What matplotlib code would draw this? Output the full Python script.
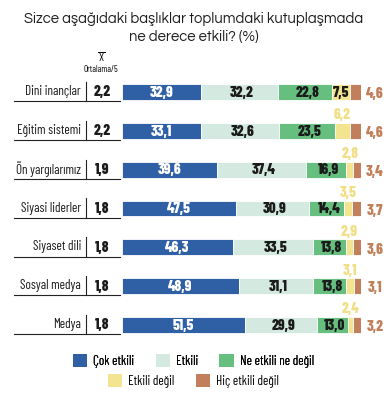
import matplotlib
matplotlib.use("Agg")
import matplotlib.pyplot as plt
from matplotlib.patches import Patch

# Data
topics = ["Dini inançlar", "Eğitim sistemi", "Ön yargılarımız", "Siyasi liderler",
          "Siyaset dili", "Sosyal medya", "Medya"]
means = ["2,2", "2,2", "1,9", "1,8", "1,8", "1,8", "1,8"]
cok_etkili = [32.9, 33.1, 39.6, 47.5, 46.3, 48.9, 51.5]
etkili = [32.2, 32.6, 37.4, 30.9, 33.5, 31.1, 29.9]
ne_etkili = [22.8, 23.5, 16.9, 14.4, 13.8, 13.8, 13.0]
etkili_degil = [7.5, 6.2, 2.8, 3.5, 2.9, 3.1, 2.4]
hic_etkili = [4.6, 4.6, 3.4, 3.7, 3.6, 3.1, 3.2]
legend_labels = ["Çok etkili", "Etkili", "Ne etkili ne değil", "Etkili değil", "Hiç etkili değil"]

colors = ["#2f5fa5", "#d4e9e0", "#67bf7f", "#f3e48f", "#c1805b"]
text_colors = ["white", "#1a1a1a", "#1a1a1a", "#f0df86", "#c1805b"]

COND = ["Barlow Condensed", "Roboto Condensed", "DejaVu Sans"]
TITLE = ["Questrial", "Lato", "DejaVu Sans"]


def fmt(v):
    return f"{v:.1f}".replace(".", ",")


fig = plt.figure(figsize=(3.87, 3.93), dpi=100)
W, H = 387, 393
# bar area in pixels: x 122..361, rows centred 92..325
ax = fig.add_axes([122 / W, 1 - 344.4 / H, 239 / W, (344.4 - 72.6) / H])
ax.set_xlim(0, 100)
ax.set_ylim(6.5, -0.5)
ax.axis("off")

series = [cok_etkili, etkili, ne_etkili, etkili_degil, hic_etkili]
ypos = list(range(len(topics)))
left = [0.0] * len(topics)
bar_h = 0.41
px = 100 / 239  # data units per pixel
vfs = 10.8
vw = 800

for si, vals in enumerate(series):
    ax.barh(ypos, vals, left=left, height=bar_h, color=colors[si],
            edgecolor="white", linewidth=0.6)
    for i, v in enumerate(vals):
        cx = left[i] + v / 2
        if si < 3:
            ax.text(cx + (1 if si > 0 else 0), i + 0.02, fmt(v), ha="center", va="center",
                    fontsize=vfs, fontweight=vw, color=text_colors[si], family=COND)
        elif si == 3:
            if v > 5 and i == 0:
                ax.text(cx, i + 0.02, fmt(v), ha="center", va="center", fontsize=vfs,
                        fontweight=vw, color="#1a1a1a", family=COND)
            else:
                ax.text(cx, i - 0.40, fmt(v), ha="center", va="center", fontsize=vfs,
                        fontweight=vw, color=text_colors[si], family=COND)
        else:
            ax.text(100 + 14 * px, i + 0.06, fmt(v), ha="center", va="center",
                    fontsize=vfs, fontweight=vw, color=text_colors[si], family=COND)
    left = [l + v for l, v in zip(left, vals)]

# row labels, mean column and rule lines
for i, (t, m) in enumerate(zip(topics, means)):
    ax.text((81 - 122) * px, i - 0.01, t, ha="right", va="center", fontsize=9.5,
            color="#1a1a1a", family=COND, clip_on=False)
    ax.text((102 - 122) * px, i + 0.01, m, ha="center", va="center", fontsize=vfs,
            fontweight=vw, color="#1a1a1a", family=COND, clip_on=False)
    ax.plot([(14 - 122) * px, (120 - 122) * px], [i + 0.24, i + 0.24], color="#222222",
            lw=0.8, clip_on=False)
    ax.plot([(86 - 122) * px] * 2, [i - 0.26, i + 0.24], color="#222222",
            lw=0.8, clip_on=False)

# column header
fig.text(101 / W, 1 - 58 / H, "X", ha="center", va="center", fontsize=8.5, family=COND)
fig.add_artist(plt.Line2D([97.5 / W, 104.5 / W], [1 - 51.5 / H] * 2, color="black", lw=0.7))
fig.text(101 / W, 1 - 69 / H, "Ortalama/5", ha="center", va="center", fontsize=6.5,
         family=COND)

# title
fig.text(0.5, 1 - 28 / H, "Sizce aşağıdaki başlıklar toplumdaki kutuplaşmada\nne derece etkili? (%)",
         ha="center", va="center", fontsize=10.6, family=TITLE, color="#1e1e1e",
         linespacing=1.3)

# legend in two centred rows
handles = [Patch(facecolor=c, edgecolor="none") for c in colors]
leg_kw = dict(frameon=False, handlelength=1.1, handleheight=1.1, handletextpad=0.45,
              columnspacing=1.6, borderaxespad=0, prop={"family": COND, "size": 9.5})
leg1 = fig.legend(handles[:3], legend_labels[:3], ncol=3, loc="center",
                  bbox_to_anchor=(0.5, 1 - 361 / H), **leg_kw)
fig.add_artist(leg1)
fig.legend(handles[3:], legend_labels[3:], ncol=2, loc="center",
           bbox_to_anchor=(0.5, 1 - 381 / H), **leg_kw)

fig.savefig("out.png", dpi=100)
